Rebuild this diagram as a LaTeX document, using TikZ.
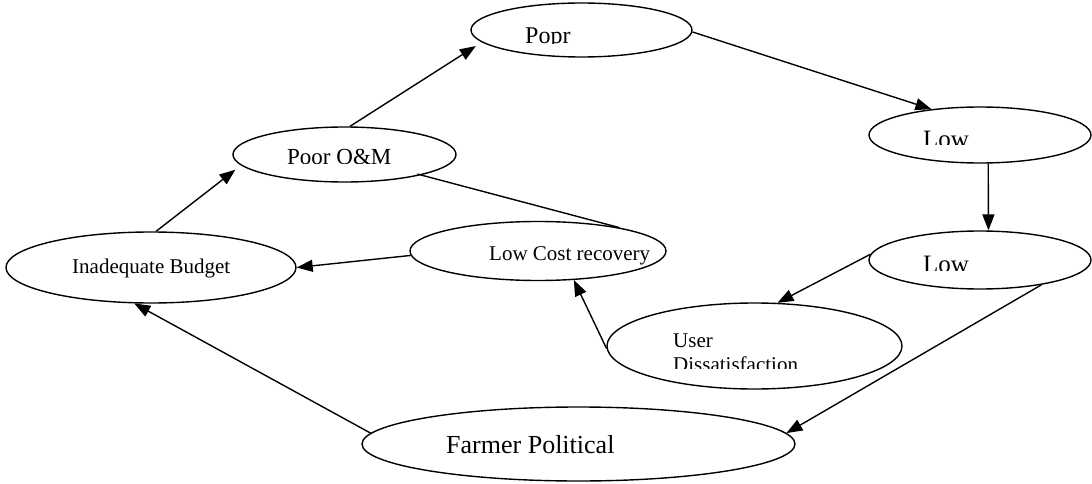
\documentclass[tikz,border=0pt]{standalone}
\usepackage{fontspec}
\setmainfont{Liberation Serif}
\usetikzlibrary{shapes.geometric,arrows.meta}
\begin{document}
\begin{tikzpicture}[x=1pt,y=-1pt,
  ell/.style={draw,ellipse,inner sep=0pt,line width=1.4pt},
  lbl/.style={anchor=base west,inner sep=0pt},
  conn/.style={line width=1.4pt},
  arr/.style={conn,-{Triangle[length=16pt,width=12pt]}}]
\useasboundingbox (0,0) rectangle (1092,484);
% ellipses
\node[ell,minimum width=221pt,minimum height=54pt] (popr) at (581.5,30) {};
\node[ell,minimum width=223pt,minimum height=55pt] (om) at (344.5,154.5) {};
\node[ell,minimum width=222pt,minimum height=56pt] (low1) at (980,135) {};
\node[ell,minimum width=222pt,minimum height=58pt] (low2) at (980,260) {};
\node[ell,minimum width=256pt,minimum height=59pt] (lcr) at (538,251) {};
\node[ell,minimum width=290pt,minimum height=71pt] (budget) at (151,267.5) {};
\node[ell,minimum width=295pt,minimum height=86pt] (user) at (754.5,346) {};
\node[ell,minimum width=433pt,minimum height=74pt] (farmer) at (578.5,444) {};
% texts
\begin{scope}
\clip (470,0) rectangle (700,44);
\node[lbl,font=\fontsize{24}{28}\selectfont] (t-popr) at (525,44) {Popr};
\end{scope}
\begin{scope}
\clip (230,120) rectangle (460,163);
\node[lbl,font=\fontsize{23}{27}\selectfont] (t-om) at (287,164.5) {Poor O\&M};
\end{scope}
\begin{scope}
\clip (870,110) rectangle (1090,145);
\node[lbl,font=\fontsize{25}{29}\selectfont] (t-low1) at (923,147) {Low};
\end{scope}
\begin{scope}
\clip (870,235) rectangle (1090,270);
\node[lbl,font=\fontsize{25}{29}\selectfont] (t-low2) at (923,272) {Low};
\end{scope}
\node[lbl,font=\fontsize{21}{25}\selectfont] (t-lcr) at (489,260) {Low Cost recovery};
\node[lbl,font=\fontsize{21}{25}\selectfont] (t-budget) at (72,273) {Inadequate Budget};
\node[lbl,font=\fontsize{21}{25}\selectfont] (t-user1) at (673,347) {User};
\begin{scope}
\clip (610,350) rectangle (900,368.5);
\node[lbl,font=\fontsize{21}{25}\selectfont] (t-user2) at (673,371) {Dissatisfaction};
\end{scope}
\node[lbl,font=\fontsize{26}{30}\selectfont] (t-farmer) at (446,453) {Farmer Political};
% connectors
\draw[arr,shorten >=7pt] (budget.82.2) -- (om.186);
\draw[arr,shorten >=7pt] (om.79) -- (popr.187);
\draw[arr] (popr.359) -- (low1.152.5);
\draw[arr] (low1.286) -- (low2.74.6);
\draw[arr] (low2.177) -- (user.62);
\draw[arr] (low2.338) -- (farmer.3.5);
\draw[arr] (user.181) -- (lcr.321);
\draw[arr] (lcr.182) -- (budget.east);
\draw[arr] (farmer.177.5) -- (budget.245.6);
\draw[conn,shorten <=-4pt] (om.345) -- (lcr.16);
\end{tikzpicture}
\end{document}
